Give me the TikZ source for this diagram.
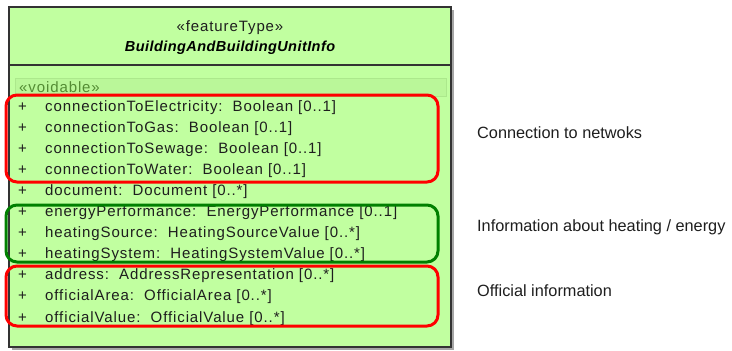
\documentclass[tikz,border=0pt]{standalone}
\usepackage{fontspec}
\setmainfont{Liberation Sans}
\newfontfamily\umlfont[LetterSpace=6]{Liberation Sans}
\newfontfamily\umlnamefont[LetterSpace=3]{Liberation Sans}
\usetikzlibrary{positioning}

\definecolor{classfill}{RGB}{193,255,160}
\definecolor{bandfill}{RGB}{186,247,153}
\definecolor{bandline}{RGB}{172,232,140}
\definecolor{voidtext}{RGB}{84,140,52}
\definecolor{grpred}{RGB}{255,0,0}
\definecolor{grpgreen}{RGB}{0,128,0}
\definecolor{txtdark}{RGB}{30,30,30}

\begin{document}
\begin{tikzpicture}[x=1pt, y=-1pt,
  attr/.style={anchor=base west, inner sep=0pt, text=txtdark,
    font=\umlfont\fontsize{15}{18}\selectfont},
  grp/.style={line width=3pt, rounded corners=11pt},
  lbl/.style={anchor=west, inner sep=0pt, text=txtdark,
    font=\fontsize{16.3}{19}\selectfont}]
  \useasboundingbox (0,0) rectangle (732,351);

  % Class box with shadow
  \fill[black!35] (12,10) rectangle (454,350);
  \draw[line width=1.5pt, draw=black!80, fill=classfill] (9,7) rectangle (451,347);
  \draw[line width=1.2pt, draw=black!80] (9,65) -- (451,65);

  % Header
  \node[attr, anchor=base] (stereo) at (230,31) {«featureType»};
  \node[anchor=base, inner sep=0pt, text=black,
    font=\umlnamefont\fontsize{14.5}{17}\selectfont\bfseries\itshape]
    (cname) at (230,51) {BuildingAndBuildingUnitInfo};

  % Voidable band
  \draw[bandline, fill=bandfill] (15,78) rectangle (446,96);
  \node[attr, text=voidtext] (void) at (19,92) {«voidable»};

  % Attributes
  \foreach \n/\t [count=\i] in {
      connectionToElectricity/{Boolean [0..1]},
      connectionToGas/{Boolean [0..1]},
      connectionToSewage/{Boolean [0..1]},
      connectionToWater/{Boolean [0..1]},
      document/{Document [0..*]},
      energyPerformance/{EnergyPerformance [0..1]},
      heatingSource/{HeatingSourceValue [0..*]},
      heatingSystem/{HeatingSystemValue [0..*]},
      address/{AddressRepresentation [0..*]},
      officialArea/{OfficialArea [0..*]},
      officialValue/{OfficialValue [0..*]}} {
    \node[attr] (p\i) at (18,{111+(\i-1)*21.1}) {+};
    \node[attr] (a\i) at (45,{111+(\i-1)*21.1}) {\n:\ \ \t};
  }

  % Groups
  \draw[grp, grpred] (6,95) rectangle (438,182);
  \draw[grp, grpgreen] (6,205) rectangle (438,262);
  \draw[grp, grpred] (6,266) rectangle (438,326);

  % Labels
  \node[lbl] (lnet) at (477,133) {Connection to netwoks};
  \node[lbl] (lheat) at (477,227) {Information about heating / energy};
  \node[lbl] (loff) at (477,291) {Official information};
\end{tikzpicture}
\end{document}
